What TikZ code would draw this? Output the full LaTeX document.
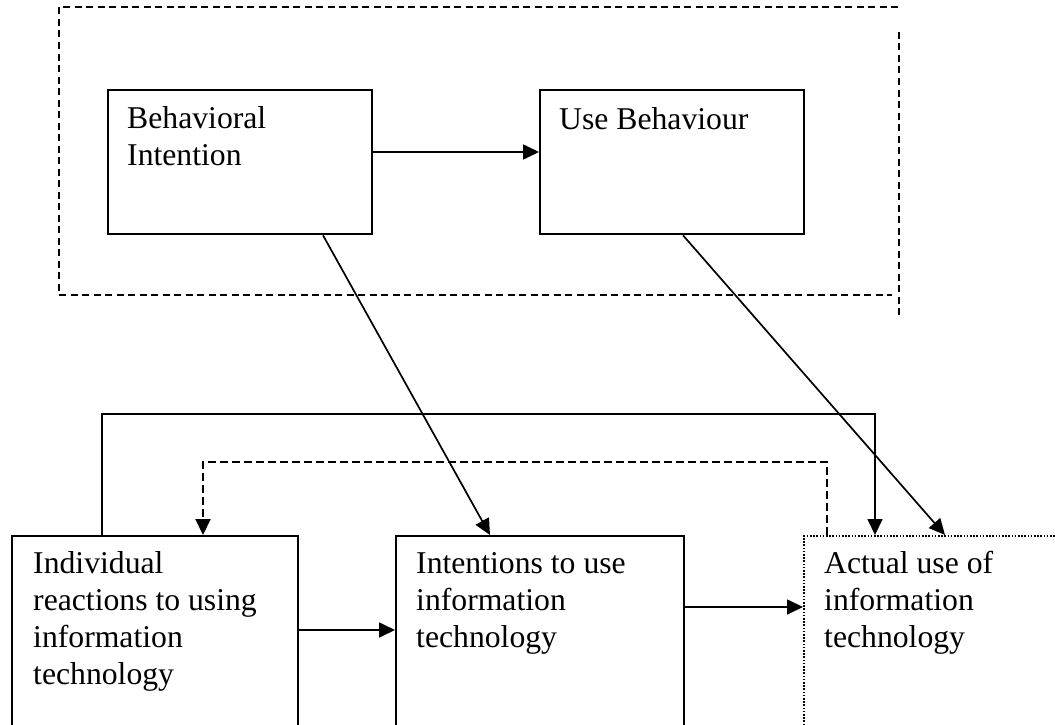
\documentclass[tikz,border=0pt]{standalone}
\usepackage{fontspec}
\setmainfont{Liberation Serif}
\usetikzlibrary{arrows.meta,calc}
\begin{document}
\begin{tikzpicture}[x=1pt,y=-1pt,
  box/.style={draw,line width=2.3pt,rectangle,inner sep=0pt,anchor=north west},
  dotbox/.style={draw,line width=1.8pt,dash pattern=on 1.6pt off 1.6pt,rectangle,inner sep=0pt,anchor=north west},
  lbl/.style={anchor=base west,inner sep=0pt,align=left,font=\fontsize{31.7}{37}\selectfont},
  conn/.style={line width=1.7pt,-{Triangle[length=16pt,width=15pt]}},
  dconn/.style={line width=2pt,dash pattern=on 8pt off 4pt,-{Triangle[length=16pt,width=15pt]}},
  frame/.style={line width=2.3pt,dash pattern=on 7pt off 4.5pt}]
\path[use as bounding box,clip] (0,0) rectangle (1055,725);
\fill[white] (0,0) rectangle (1055,725);
% outer dashed frame
\draw[frame] (898,7) -- (59,7) -- (59,295) -- (892,295);
\draw[frame] (899,32) -- (899,316);
% top boxes
\node[box,minimum width=264pt,minimum height=144pt] (bi) at (107,89) {};
\node[box,minimum width=264pt,minimum height=144pt] (ub) at (539,89) {};
\node[lbl] (bit) at (127,165) {Behavioral\\Intention};
\node[lbl] (ubt) at (559,129) {Use Behaviour};
% bottom boxes
\node[box,minimum width=286pt,minimum height=230pt] (ind) at (11,535) {};
\node[box,minimum width=288pt,minimum height=230pt] (int) at (395,535) {};
\node[dotbox,minimum width=300pt,minimum height=230pt] (act) at (803,535) {};
\node[lbl] (indt) at (33,684) {Individual\\reactions to using\\information\\technology};
\node[lbl] (intt) at (416,647) {Intentions to use\\information\\technology};
\node[lbl] (actt) at (824,647) {Actual use of\\information\\technology};
% connectors
\draw[conn] ([yshift=-63pt]bi.north east) -- ([yshift=-63pt]ub.north west);
\draw[conn] ([yshift=-95pt]ind.north east) -- ([yshift=-95pt]int.north west);
\draw[conn] ([yshift=-72pt]int.north east) -- ([yshift=-72pt]act.north west);
\draw[conn] ([xshift=216pt]bi.south west) -- ([xshift=95pt]int.north west);
\draw[conn] ([xshift=144pt]ub.south west) -- ([xshift=142pt]act.north west);
\coordinate (fb) at (0,414);
\coordinate (fd) at (0,462);
\draw[conn] ([xshift=91pt]ind.north west) -- ([xshift=91pt]ind.north west |- fb)
  -- ([xshift=72pt]act.north west |- fb) -- ([xshift=72pt]act.north west);
\draw[dconn] ([xshift=24pt]act.north west) -- ([xshift=24pt]act.north west |- fd)
  -- ([xshift=192pt]ind.north west |- fd) -- ([xshift=192pt]ind.north west);
\end{tikzpicture}
\end{document}
